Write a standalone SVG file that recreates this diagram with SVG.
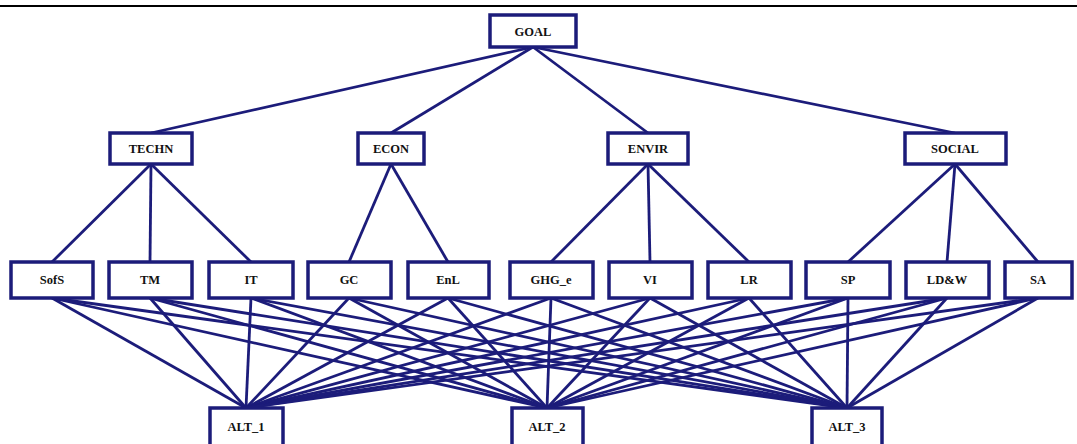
<svg xmlns="http://www.w3.org/2000/svg" width="1077" height="444" viewBox="0 0 1077 444">
<style>
.n rect{fill:#fff;stroke:#1c1c7a;stroke-width:3.5}
.n text{font-family:"Liberation Serif",serif;font-weight:bold;font-size:12.5px;fill:#111;text-anchor:middle}
#edges line{stroke:#1c1c7a;stroke-width:2.8}
</style>
<rect x="0" y="0" width="1077" height="444" fill="#fff"/>
<line x1="0" y1="6" x2="1077" y2="6" stroke="#000" stroke-width="2"/>
<g id="edges">
<line x1="533" y1="47" x2="151" y2="133"/>
<line x1="533" y1="47" x2="391" y2="133"/>
<line x1="533" y1="47" x2="648" y2="133"/>
<line x1="533" y1="47" x2="955" y2="133"/>
<line x1="151" y1="164" x2="52" y2="262"/>
<line x1="151" y1="164" x2="150" y2="262"/>
<line x1="151" y1="164" x2="251" y2="262"/>
<line x1="391" y1="164" x2="349" y2="262"/>
<line x1="391" y1="164" x2="448" y2="262"/>
<line x1="648" y1="164" x2="551" y2="262"/>
<line x1="648" y1="164" x2="650" y2="262"/>
<line x1="648" y1="164" x2="749" y2="262"/>
<line x1="955" y1="164" x2="848" y2="262"/>
<line x1="955" y1="164" x2="947" y2="262"/>
<line x1="955" y1="164" x2="1038" y2="262"/>
<line x1="52" y1="298" x2="246" y2="408"/><line x1="52" y1="298" x2="547" y2="408"/><line x1="52" y1="298" x2="847" y2="408"/>
<line x1="150" y1="298" x2="246" y2="408"/><line x1="150" y1="298" x2="547" y2="408"/><line x1="150" y1="298" x2="847" y2="408"/>
<line x1="251" y1="298" x2="246" y2="408"/><line x1="251" y1="298" x2="547" y2="408"/><line x1="251" y1="298" x2="847" y2="408"/>
<line x1="349" y1="298" x2="246" y2="408"/><line x1="349" y1="298" x2="547" y2="408"/><line x1="349" y1="298" x2="847" y2="408"/>
<line x1="448" y1="298" x2="246" y2="408"/><line x1="448" y1="298" x2="547" y2="408"/><line x1="448" y1="298" x2="847" y2="408"/>
<line x1="551" y1="298" x2="246" y2="408"/><line x1="551" y1="298" x2="547" y2="408"/><line x1="551" y1="298" x2="847" y2="408"/>
<line x1="650" y1="298" x2="246" y2="408"/><line x1="650" y1="298" x2="547" y2="408"/><line x1="650" y1="298" x2="847" y2="408"/>
<line x1="749" y1="298" x2="246" y2="408"/><line x1="749" y1="298" x2="547" y2="408"/><line x1="749" y1="298" x2="847" y2="408"/>
<line x1="848" y1="298" x2="246" y2="408"/><line x1="848" y1="298" x2="547" y2="408"/><line x1="848" y1="298" x2="847" y2="408"/>
<line x1="947" y1="298" x2="246" y2="408"/><line x1="947" y1="298" x2="547" y2="408"/><line x1="947" y1="298" x2="847" y2="408"/>
<line x1="1038" y1="298" x2="246" y2="408"/><line x1="1038" y1="298" x2="547" y2="408"/><line x1="1038" y1="298" x2="847" y2="408"/>
</g>
<g id="goal" class="n"><rect x="490" y="15" width="86" height="32"/><text x="533" y="36">GOAL</text></g>
<g id="techn" class="n"><rect x="110" y="133" width="82" height="31"/><text x="151" y="153">TECHN</text></g>
<g id="econ" class="n"><rect x="358" y="133" width="66" height="31"/><text x="391" y="153">ECON</text></g>
<g id="envir" class="n"><rect x="608" y="133" width="80" height="31"/><text x="648" y="153">ENVIR</text></g>
<g id="social" class="n"><rect x="905" y="133" width="101" height="31"/><text x="955" y="153">SOCIAL</text></g>
<g id="sofs" class="n"><rect x="11" y="262" width="82" height="36"/><text x="52" y="284">SofS</text></g>
<g id="tm" class="n"><rect x="109" y="262" width="83" height="36"/><text x="150" y="284">TM</text></g>
<g id="it" class="n"><rect x="209" y="262" width="84" height="36"/><text x="251" y="284">IT</text></g>
<g id="gc" class="n"><rect x="308" y="262" width="83" height="36"/><text x="349" y="284">GC</text></g>
<g id="enl" class="n"><rect x="408" y="262" width="81" height="36"/><text x="448" y="284">EnL</text></g>
<g id="ghg_e" class="n"><rect x="510" y="262" width="83" height="36"/><text x="551" y="284">GHG_e</text></g>
<g id="vi" class="n"><rect x="609" y="262" width="83" height="36"/><text x="650" y="284">VI</text></g>
<g id="lr" class="n"><rect x="708" y="262" width="83" height="36"/><text x="749" y="284">LR</text></g>
<g id="sp" class="n"><rect x="806" y="262" width="84" height="36"/><text x="848" y="284">SP</text></g>
<g id="ldw" class="n"><rect x="906" y="262" width="83" height="36"/><text x="947" y="284">LD&amp;W</text></g>
<g id="sa" class="n"><rect x="1005" y="262" width="67" height="36"/><text x="1038" y="284">SA</text></g>
<g id="alt1" class="n"><rect x="210" y="408" width="73" height="40"/><text x="246" y="431">ALT_1</text></g>
<g id="alt2" class="n"><rect x="512" y="408" width="71" height="40"/><text x="547" y="431">ALT_2</text></g>
<g id="alt3" class="n"><rect x="812" y="408" width="70" height="40"/><text x="847" y="431">ALT_3</text></g>
</svg>
